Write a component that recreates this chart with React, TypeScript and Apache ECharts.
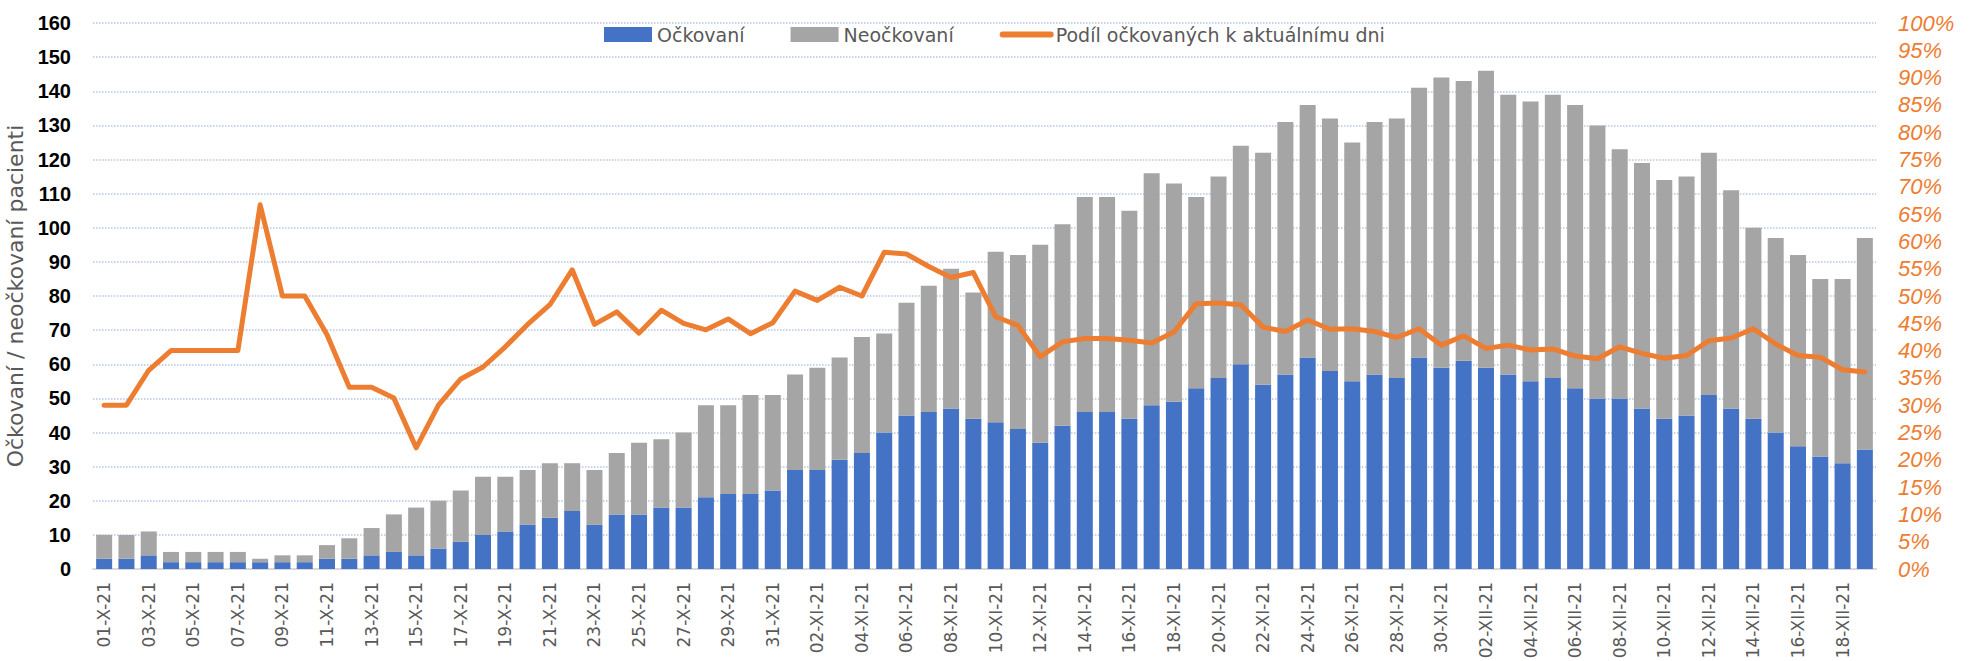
import React, { useEffect, useRef } from "react";
import * as echarts from "echarts";

const categories = [
  "01-X-21","02-X-21","03-X-21","04-X-21","05-X-21","06-X-21","07-X-21","08-X-21","09-X-21","10-X-21",
  "11-X-21","12-X-21","13-X-21","14-X-21","15-X-21","16-X-21","17-X-21","18-X-21","19-X-21","20-X-21",
  "21-X-21","22-X-21","23-X-21","24-X-21","25-X-21","26-X-21","27-X-21","28-X-21","29-X-21","30-X-21","31-X-21",
  "01-XI-21","02-XI-21","03-XI-21","04-XI-21","05-XI-21","06-XI-21","07-XI-21","08-XI-21","09-XI-21","10-XI-21",
  "11-XI-21","12-XI-21","13-XI-21","14-XI-21","15-XI-21","16-XI-21","17-XI-21","18-XI-21","19-XI-21","20-XI-21",
  "21-XI-21","22-XI-21","23-XI-21","24-XI-21","25-XI-21","26-XI-21","27-XI-21","28-XI-21","29-XI-21","30-XI-21",
  "01-XII-21","02-XII-21","03-XII-21","04-XII-21","05-XII-21","06-XII-21","07-XII-21","08-XII-21","09-XII-21","10-XII-21",
  "11-XII-21","12-XII-21","13-XII-21","14-XII-21","15-XII-21","16-XII-21","17-XII-21","18-XII-21","19-XII-21"
];

const vaccinated = [
  3,3,4,2,2,2,2,2,2,2,3,3,4,5,4,6,8,10,11,13,15,17,13,16,16,18,18,21,22,22,23,
  29,29,32,34,40,45,46,47,44,43,41,37,42,46,46,44,48,49,53,56,60,54,57,62,58,55,57,56,62,59,
  61,59,57,55,56,53,50,50,47,44,45,51,47,44,40,36,33,31,35
];

const unvaccinated = [
  7,7,7,3,3,3,3,1,2,2,4,6,8,11,14,14,15,17,16,16,16,14,16,18,21,20,22,27,26,29,28,
  28,30,30,34,29,33,37,41,37,50,51,58,59,63,63,61,68,64,56,59,64,68,74,74,74,70,74,76,79,85,
  82,87,82,82,83,83,80,73,72,70,70,71,64,56,57,56,52,54,62
];

const sharePct = [
  30,30,36.4,40,40,40,40,66.7,50,50,42.9,33.3,33.3,31.3,22.2,30,34.8,37,40.7,44.8,48.4,54.8,44.8,47.1,43.2,47.4,45,43.8,45.8,43.1,45.1,
  50.9,49.2,51.6,50,58,57.7,55.4,53.4,54.3,46.2,44.6,38.9,41.6,42.2,42.2,41.9,41.4,43.4,48.6,48.7,48.4,44.3,43.5,45.6,43.9,44,43.5,42.4,44,41,
  42.7,40.4,41,40.1,40.3,39,38.5,40.7,39.5,38.6,39.1,41.8,42.3,44,41.2,39.1,38.8,36.5,36.1
];

const seriesNames = ["Očkovaní", "Neočkovaní", "Podíl očkovaných k aktuálnímu dni"];
const yAxisTitle = "Očkovaní / neočkovaní pacienti";

export default function App() {
  const ref = useRef<HTMLDivElement>(null);
  useEffect(() => {
    if (!ref.current) return;
    const chart = echarts.init(ref.current, undefined, { renderer: "svg" });
    const sans = "'DejaVu Sans', Verdana, sans-serif";
    const narrow = "'Liberation Sans Narrow', 'Liberation Sans', Arial, sans-serif";
    chart.setOption({
      animation: false,
      backgroundColor: "#ffffff",
      grid: {
        left: 93,
        right: 93,
        top: 23,
        bottom: 92,
        containLabel: false,
        outerBoundsMode: "none",
      },
      legend: {
        left: 599,
        top: 20,
        itemWidth: 48,
        itemHeight: 15,
        itemGap: 46,
        textStyle: { fontFamily: sans, fontSize: 19, color: "#595959" },
        data: [
          { name: seriesNames[0], icon: "rect" },
          { name: seriesNames[1], icon: "rect" },
          {
            name: seriesNames[2],
            itemStyle: { opacity: 0 },
            lineStyle: { width: 6, color: "#ED7D31", cap: "round" },
          },
        ],
      },
      xAxis: {
        type: "category",
        data: categories,
        axisLine: { lineStyle: { color: "#d9d9d9", width: 2 } },
        axisTick: { show: false },
        axisLabel: {
          interval: 1,
          rotate: 90,
          margin: 13,
          fontFamily: sans,
          fontSize: 17,
          color: "#595959",
        },
      },
      yAxis: [
        {
          type: "value",
          min: 0,
          max: 160,
          interval: 10,
          name: yAxisTitle,
          nameLocation: "middle",
          nameGap: 62,
          nameTextStyle: { fontFamily: sans, fontSize: 22, color: "#595959" },
          axisLine: { show: false },
          axisTick: { show: false },
          axisLabel: { fontFamily: narrow, fontSize: 20, fontWeight: "bold", color: "#000000", margin: 22 },
          splitLine: { lineStyle: { color: "#b4c6e7", type: "dotted", width: 1.5 } },
        },
        {
          type: "value",
          min: 0,
          max: 100,
          interval: 5,
          position: "right",
          axisLine: { show: false },
          axisTick: { show: false },
          splitLine: { show: false },
          axisLabel: {
            formatter: "{value}%",
            fontFamily: narrow,
            fontSize: 22,
            fontStyle: "italic",
            color: "#ED7D31",
            margin: 22,
          },
        },
      ],
      series: [
        {
          name: seriesNames[0],
          type: "bar",
          stack: "total",
          data: vaccinated,
          barWidth: 16,
          itemStyle: { color: "#4472C4" },
        },
        {
          name: seriesNames[1],
          type: "bar",
          stack: "total",
          data: unvaccinated,
          barWidth: 16,
          itemStyle: { color: "#A5A5A5" },
        },
        {
          name: seriesNames[2],
          type: "line",
          yAxisIndex: 1,
          data: sharePct,
          symbol: "none",
          z: 5,
          lineStyle: { color: "#ED7D31", width: 5, cap: "round", join: "round" },
          itemStyle: { color: "#ED7D31" },
        },
      ],
    });
    return () => chart.dispose();
  }, []);
  return (
    <div
      ref={ref}
      style={{ position: "fixed", left: 0, top: 0, width: 1969, height: 661 }}
    />
  );
}
